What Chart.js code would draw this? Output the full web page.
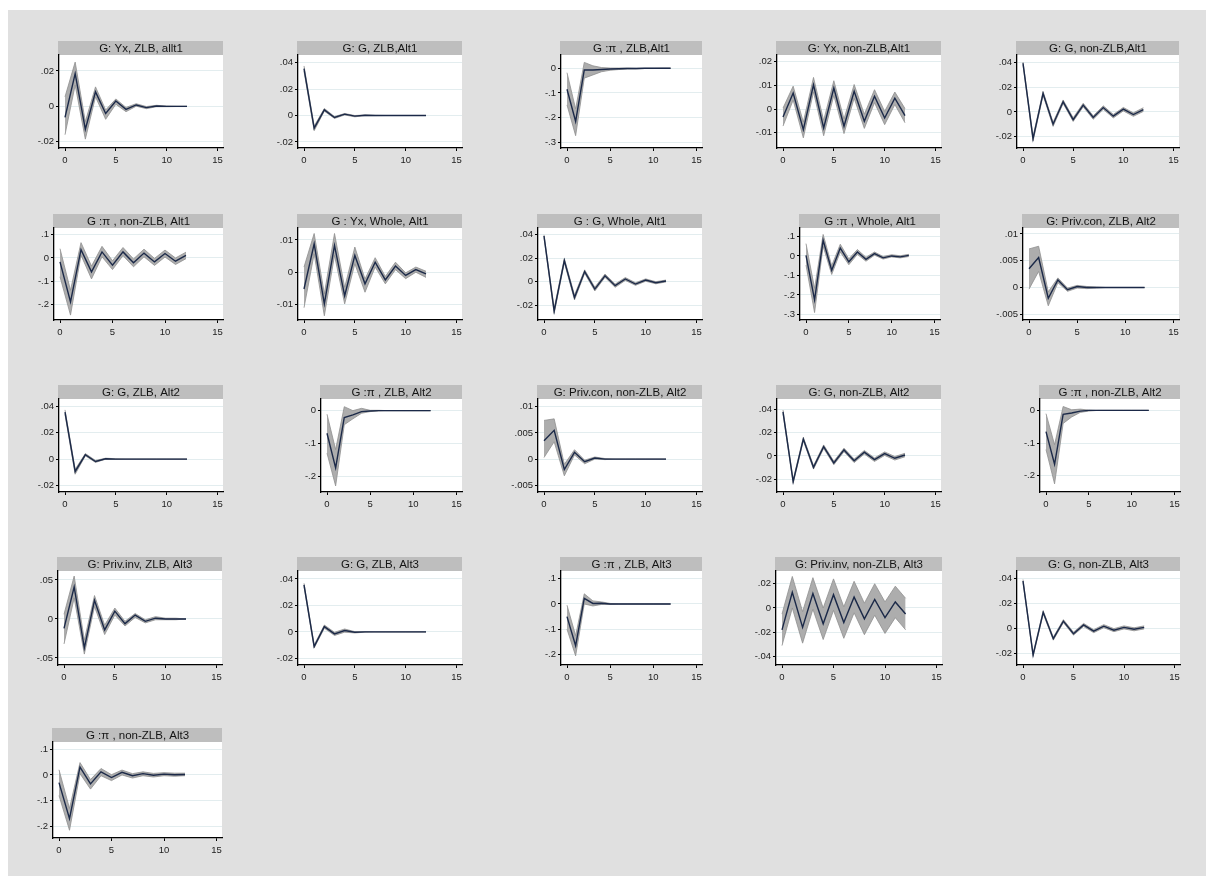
<!DOCTYPE html>
<html>
<head>
<meta charset="utf-8">
<script src="https://cdn.jsdelivr.net/npm/chart.js@4/dist/chart.umd.min.js"></script>
<style>
  html, body { margin: 0; padding: 0; background: #ffffff; width: 1206px; height: 876px; overflow: hidden; }
  #frame { position: absolute; left: 8px; top: 10px; width: 1198px; height: 866px; background: #e0e0e0; }
  canvas { position: absolute; }
</style>
</head>
<body>
<div id="frame"></div>
<script>
// Impulse responses to a government spending shock, horizons 0..12, with confidence bands.
const horizon = [0, 1, 2, 3, 4, 5, 6, 7, 8, 9, 10, 11, 12];
const xTickValues = [0, 5, 10, 15];

// Output, ZLB, alt 1
const yxZlb1   = [-0.0062, 0.0185, -0.0129, 0.0082, -0.004, 0.003, -0.0017, 0.0008, -0.0007, 0.0002, 0, 0, 0];
const yxZlb1Lo = [-0.016, 0.012, -0.0185, 0.0054, -0.0073, 0.0012, -0.003, 0.0001, -0.0013, -0.0002, -0.0002, -0.0001, -0.0001];
const yxZlb1Hi = [0.0054, 0.025, -0.0086, 0.011, -0.002, 0.0042, -0.0006, 0.0015, -0.0001, 0.0006, 0.0002, 0.0001, 0.0001];
// Government spending, ZLB, alt 1
const gZlb1    = [0.0355, -0.0095, 0.0043, -0.0015, 0.001, -0.0005, 0.0002, 0, 0, 0, 0, 0, 0];
const gZlb1Lo  = [0.0335, -0.0115, 0.0033, -0.0022, 0.0004, -0.001, -0.0001, -0.0001, 0, 0, 0, 0, 0];
const gZlb1Hi  = [0.0375, -0.008, 0.0053, -0.0008, 0.0015, 0, 0.0004, 0.0001, 0, 0, 0, 0, 0];
// Inflation, ZLB, alt 1
const piZlb1   = [-0.085, -0.216, -0.007, -0.007, -0.005, -0.003, -0.002, -0.001, -0.001, 0, 0, 0, 0];
const piZlb1Lo = [-0.149, -0.274, -0.04, -0.027, -0.014, -0.008, -0.005, -0.003, -0.003, -0.001, -0.001, 0, 0];
const piZlb1Hi = [-0.018, -0.165, 0.024, 0.01, 0.003, 0.001, 0.001, 0.001, 0, 0, 0, 0, 0];
// Output, non-ZLB, alt 1
const yxNon1   = [-0.0034, 0.0068, -0.0087, 0.0103, -0.008, 0.0089, -0.0073, 0.0075, -0.0052, 0.0054, -0.0038, 0.0046, -0.0028];
const yxNon1Lo = [-0.0072, 0.0038, -0.0122, 0.0072, -0.0113, 0.0058, -0.0104, 0.0046, -0.0082, 0.0027, -0.0066, 0.0019, -0.0058];
const yxNon1Hi = [0.0004, 0.0097, -0.0055, 0.0134, -0.0048, 0.012, -0.0042, 0.0104, -0.0022, 0.0082, -0.001, 0.0072, 0.0002];
// Government spending, non-ZLB, alt 1
const gNon1    = [0.0396, -0.0218, 0.015, -0.010, 0.0082, -0.0063, 0.0055, -0.0046, 0.0035, -0.0035, 0.0022, -0.0022, 0.0019];
const gNon1Lo  = [0.0381, -0.0238, 0.0135, -0.0118, 0.0068, -0.0078, 0.0041, -0.006, 0.0021, -0.0049, 0.0008, -0.0036, 0.0004];
const gNon1Hi  = [0.0406, -0.0200, 0.0165, -0.0084, 0.0097, -0.0048, 0.007, -0.0032, 0.0049, -0.0021, 0.0036, -0.0008, 0.0034];
// Inflation, non-ZLB, alt 1
const piNon1   = [-0.017, -0.189, 0.036, -0.06, 0.026, -0.031, 0.026, -0.021, 0.021, -0.017, 0.019, -0.014, 0.011];
const piNon1Lo = [-0.081, -0.246, 0.012, -0.09, 0.005, -0.05, 0.01, -0.038, 0.005, -0.032, 0.004, -0.028, -0.003];
const piNon1Hi = [0.04, -0.139, 0.066, -0.035, 0.05, -0.012, 0.045, -0.004, 0.038, -0.002, 0.034, 0, 0.025];
// Output, whole sample, alt 1
const yxAll1   = [-0.0052, 0.0088, -0.0098, 0.0083, -0.0073, 0.0052, -0.0036, 0.0031, -0.0024, 0.0019, -0.001, 0.0008, -0.0005];
const yxAll1Lo = [-0.011, 0.0057, -0.0135, 0.0052, -0.0098, 0.0026, -0.0062, 0.0016, -0.0036, 0.0008, -0.002, 0, -0.0016];
const yxAll1Hi = [0.0016, 0.012, -0.0067, 0.012, -0.0047, 0.0078, -0.0021, 0.0045, -0.0013, 0.0031, -0.0002, 0.0016, 0.0003];
// Government spending, whole sample, alt 1
const gAll1    = [0.0389, -0.0249, 0.018, -0.0134, 0.0086, -0.0063, 0.0051, -0.0034, 0.0023, -0.002, 0.0014, -0.0009, 0.0006];
const gAll1Lo  = [0.0374, -0.027, 0.0163, -0.0155, 0.0071, -0.0079, 0.0037, -0.0048, 0.0011, -0.0031, 0.0004, -0.0018, -0.0002];
const gAll1Hi  = [0.0399, -0.0228, 0.0197, -0.0113, 0.0101, -0.0047, 0.0065, -0.002, 0.0035, -0.0009, 0.0024, 0, 0.0014];
// Inflation, whole sample, alt 1
const piAll1   = [0.003, -0.225, 0.08, -0.073, 0.04, -0.03, 0.02, -0.017, 0.012, -0.01, 0, -0.005, 0.003];
const piAll1Lo = [-0.047, -0.29, 0.05, -0.095, 0.02, -0.045, 0.008, -0.027, 0.004, -0.016, -0.005, -0.01, -0.003];
const piAll1Hi = [0.063, -0.166, 0.11, -0.05, 0.06, -0.015, 0.033, -0.007, 0.02, -0.003, 0.006, 0.001, 0.008];
// Private consumption, ZLB, alt 2
const pconZlb2   = [0.0035, 0.0056, -0.002, 0.0014, -0.0004, 0.0002, 0, 0, 0, 0, 0, 0, 0];
const pconZlb2Lo = [-0.0003, 0.003, -0.0034, 0.0009, -0.0007, -0.0001, -0.0002, -0.0001, 0, 0, 0, 0, 0];
const pconZlb2Hi = [0.0072, 0.0077, -0.0008, 0.0018, -0.0001, 0.0004, 0.0002, 0.0001, 0, 0, 0, 0, 0];
// Government spending, ZLB, alt 2
const gZlb2    = [0.0357, -0.0094, 0.0033, -0.0018, 0.0003, 0, 0, 0, 0, 0, 0, 0, 0];
const gZlb2Lo  = [0.034, -0.0115, 0.0025, -0.0025, -0.0001, -0.0003, 0, 0, 0, 0, 0, 0, 0];
const gZlb2Hi  = [0.0374, -0.0078, 0.0042, -0.001, 0.0007, 0.0003, 0, 0, 0, 0, 0, 0, 0];
// Inflation, ZLB, alt 2
const piZlb2   = [-0.069, -0.175, -0.021, -0.013, -0.003, -0.001, 0, 0, 0, 0, 0, 0, 0];
const piZlb2Lo = [-0.13, -0.23, -0.043, -0.025, -0.008, -0.003, -0.001, 0, 0, 0, 0, 0, 0];
const piZlb2Hi = [-0.011, -0.119, 0.012, 0, 0.007, 0.001, 0.001, 0, 0, 0, 0, 0, 0];
// Private consumption, non-ZLB, alt 2
const pconNon2   = [0.0035, 0.0055, -0.002, 0.0013, -0.0005, 0.0002, 0, 0, 0, 0, 0, 0, 0];
const pconNon2Lo = [0.0003, 0.0033, -0.0032, 0.0008, -0.0009, 0, -0.0001, 0, 0, 0, 0, 0, 0];
const pconNon2Hi = [0.0074, 0.0077, -0.001, 0.0018, -0.0002, 0.0004, 0.0001, 0, 0, 0, 0, 0, 0];
// Government spending, non-ZLB, alt 2
const gNon2    = [0.038, -0.022, 0.0145, -0.0098, 0.008, -0.006, 0.0052, -0.0042, 0.0032, -0.0032, 0.002, -0.002, 0.0008];
const gNon2Lo  = [0.0365, -0.0235, 0.013, -0.0113, 0.0065, -0.0075, 0.0037, -0.0057, 0.0017, -0.0047, 0.0005, -0.0035, -0.0007];
const gNon2Hi  = [0.0395, -0.0205, 0.016, -0.0083, 0.0095, -0.0045, 0.0067, -0.0027, 0.0047, -0.0017, 0.0035, -0.0005, 0.0023];
// Inflation, non-ZLB, alt 2
const piNon2   = [-0.065, -0.165, -0.012, -0.008, -0.002, 0, 0, 0, 0, 0, 0, 0, 0];
const piNon2Lo = [-0.12, -0.225, -0.04, -0.02, -0.006, -0.002, 0, 0, 0, 0, 0, 0, 0];
const piNon2Hi = [-0.01, -0.105, 0.012, 0.002, 0.004, 0.001, 0, 0, 0, 0, 0, 0, 0];
// Private investment, ZLB, alt 3
const pinvZlb3   = [-0.012, 0.041, -0.037, 0.024, -0.014, 0.01, -0.006, 0.005, -0.003, 0.001, 0, 0, 0];
const pinvZlb3Lo = [-0.032, 0.027, -0.045, 0.016, -0.02, 0.005, -0.009, 0.002, -0.005, -0.001, -0.001, -0.001, 0];
const pinvZlb3Hi = [0.006, 0.055, -0.027, 0.03, -0.008, 0.014, -0.003, 0.007, -0.001, 0.003, 0.001, 0.001, 0];
// Government spending, ZLB, alt 3
const gZlb3    = [0.0355, -0.011, 0.004, -0.0015, 0.001, -0.0003, 0, 0, 0, 0, 0, 0, 0];
const gZlb3Lo  = [0.0343, -0.0122, 0.0028, -0.0027, -0.0002, -0.0008, -0.0002, 0, 0, 0, 0, 0, 0];
const gZlb3Hi  = [0.0367, -0.0098, 0.0052, -0.0003, 0.0022, 0.0002, 0.0002, 0, 0, 0, 0, 0, 0];
// Inflation, ZLB, alt 3
const piZlb3   = [-0.05, -0.165, 0.022, 0.002, 0.003, 0, 0, 0, 0, 0, 0, 0, 0];
const piZlb3Lo = [-0.1, -0.205, 0.0, -0.008, -0.002, -0.002, 0, 0, 0, 0, 0, 0, 0];
const piZlb3Hi = [-0.005, -0.125, 0.04, 0.012, 0.008, 0.002, 0, 0, 0, 0, 0, 0, 0];
// Private investment, non-ZLB, alt 3
const pinvNon3   = [-0.018, 0.013, -0.016, 0.012, -0.013, 0.011, -0.012, 0.009, -0.009, 0.007, -0.008, 0.005, -0.005];
const pinvNon3Lo = [-0.031, 0.0, -0.029, -0.001, -0.026, -0.002, -0.025, -0.004, -0.022, -0.006, -0.021, -0.008, -0.018];
const pinvNon3Hi = [-0.005, 0.026, -0.003, 0.025, 0.0, 0.024, 0.001, 0.022, 0.004, 0.02, 0.005, 0.018, 0.008];
// Government spending, non-ZLB, alt 3
const gNon3    = [0.038, -0.021, 0.013, -0.008, 0.006, -0.004, 0.003, -0.002, 0.002, -0.0012, 0.001, -0.0005, 0.001];
const gNon3Lo  = [0.0368, -0.0222, 0.0118, -0.0092, 0.0048, -0.0052, 0.0018, -0.0032, 0.0008, -0.0024, -0.0002, -0.0017, -0.0002];
const gNon3Hi  = [0.0392, -0.0198, 0.0142, -0.0068, 0.0072, -0.0028, 0.0042, -0.0008, 0.0032, 0.0, 0.0022, 0.0007, 0.0022];
// Inflation, non-ZLB, alt 3
const piNon3   = [-0.03, -0.17, 0.03, -0.035, 0.012, -0.01, 0.01, -0.003, 0.005, -0.001, 0.003, 0.001, 0.002];
const piNon3Lo = [-0.08, -0.215, 0.005, -0.055, -0.003, -0.022, 0, -0.012, -0.003, -0.008, -0.003, -0.005, -0.003];
const piNon3Hi = [0.02, -0.13, 0.048, -0.018, 0.025, 0.001, 0.019, 0.005, 0.012, 0.006, 0.009, 0.007, 0.007];

// Panel titles, in reading order
const panelTitles = [
  'G: Yx, ZLB, allt1', 'G: G, ZLB,Alt1', 'G :\u03c0 , ZLB,Alt1', 'G: Yx, non-ZLB,Alt1', 'G: G, non-ZLB,Alt1',
  'G :\u03c0 , non-ZLB, Alt1', 'G : Yx, Whole, Alt1', 'G : G, Whole, Alt1', 'G :\u03c0 , Whole, Alt1', 'G: Priv.con, ZLB, Alt2',
  'G: G, ZLB, Alt2', 'G :\u03c0 , ZLB, Alt2', 'G: Priv.con, non-ZLB, Alt2', 'G: G, non-ZLB, Alt2', 'G :\u03c0 , non-ZLB, Alt2',
  'G: Priv.inv, ZLB, Alt3', 'G: G, ZLB, Alt3', 'G :\u03c0 , ZLB, Alt3', 'G: Priv.inv, non-ZLB, Alt3', 'G: G, non-ZLB, Alt3',
  'G :\u03c0 , non-ZLB, Alt3'
];
// Response series per panel: [point estimate, lower band, upper band]
const panelSeries = [
  [yxZlb1, yxZlb1Lo, yxZlb1Hi], [gZlb1, gZlb1Lo, gZlb1Hi], [piZlb1, piZlb1Lo, piZlb1Hi], [yxNon1, yxNon1Lo, yxNon1Hi], [gNon1, gNon1Lo, gNon1Hi],
  [piNon1, piNon1Lo, piNon1Hi], [yxAll1, yxAll1Lo, yxAll1Hi], [gAll1, gAll1Lo, gAll1Hi], [piAll1, piAll1Lo, piAll1Hi], [pconZlb2, pconZlb2Lo, pconZlb2Hi],
  [gZlb2, gZlb2Lo, gZlb2Hi], [piZlb2, piZlb2Lo, piZlb2Hi], [pconNon2, pconNon2Lo, pconNon2Hi], [gNon2, gNon2Lo, gNon2Hi], [piNon2, piNon2Lo, piNon2Hi],
  [pinvZlb3, pinvZlb3Lo, pinvZlb3Hi], [gZlb3, gZlb3Lo, gZlb3Hi], [piZlb3, piZlb3Lo, piZlb3Hi], [pinvNon3, pinvNon3Lo, pinvNon3Hi], [gNon3, gNon3Lo, gNon3Hi],
  [piNon3, piNon3Lo, piNon3Hi]
];
// Vertical axis range [min, max] per panel
const yRanges = [
  [-0.0235, 0.029], [-0.0246, 0.0458], [-0.324, 0.054], [-0.0165, 0.0229], [-0.0294, 0.0463],
  [-0.267, 0.129], [-0.0148, 0.0137], [-0.0326, 0.0457], [-0.328, 0.143], [-0.00605, 0.0111],
  [-0.025, 0.0457], [-0.2485, 0.0355], [-0.0063, 0.0115], [-0.031, 0.049], [-0.25, 0.035],
  [-0.059, 0.0615], [-0.025, 0.046], [-0.241, 0.13], [-0.047, 0.0305], [-0.029, 0.046],
  [-0.245, 0.128]
];
// Vertical axis tick values per panel
const yTickValues = [
  [-0.02, 0, 0.02], [-0.02, 0, 0.02, 0.04], [-0.3, -0.2, -0.1, 0], [-0.01, 0, 0.01, 0.02], [-0.02, 0, 0.02, 0.04],
  [-0.2, -0.1, 0, 0.1], [-0.01, 0, 0.01], [-0.02, 0, 0.02, 0.04], [-0.3, -0.2, -0.1, 0, 0.1], [-0.005, 0, 0.005, 0.01],
  [-0.02, 0, 0.02, 0.04], [-0.2, -0.1, 0], [-0.005, 0, 0.005, 0.01], [-0.02, 0, 0.02, 0.04], [-0.2, -0.1, 0],
  [-0.05, 0, 0.05], [-0.02, 0, 0.02, 0.04], [-0.2, -0.1, 0, 0.1], [-0.04, -0.02, 0, 0.02], [-0.02, 0, 0.02, 0.04],
  [-0.2, -0.1, 0, 0.1]
];

// Plot-region boxes on the page: [left, right, top, bottom]
const panelBoxes = [
  [59, 223, 55, 148], [298, 462, 55, 148], [561, 702, 55, 148], [777, 941, 55, 148], [1017, 1179, 55, 148],
  [54, 223, 228, 320], [298, 462, 228, 320], [538, 702, 228, 320], [800, 940, 228, 320], [1023, 1179, 228, 320],
  [59, 223, 399, 492], [321, 462, 399, 492], [538, 702, 399, 492], [777, 941, 399, 492], [1040, 1180, 399, 492],
  [58, 222, 571, 665], [298, 462, 571, 665], [561, 702, 571, 665], [776, 942, 571, 665], [1017, 1180, 571, 665],
  [53, 222, 742, 838]
];

const LABEL_W = 44, TITLE_H = 14, RIGHT_PAD = 8, XLAB_H = 22;
const FONT = '"Liberation Sans", Arial, Helvetica, sans-serif';

function stataLabel(v) {
  if (Math.abs(v) < 1e-12) return '0';
  const s = String(+v.toPrecision(6));
  return s.replace(/^(-?)0\./, '$1.');
}

// Grey heading strip above each plot region, and the white plot background
const panelDecor = {
  id: 'panelDecor',
  beforeDraw(chart, args, opts) {
    const { ctx, chartArea: a } = chart;
    ctx.save();
    ctx.fillStyle = '#ffffff';
    ctx.fillRect(a.left, a.top, a.right - a.left, a.bottom - a.top);
    ctx.fillStyle = '#bebebe';
    ctx.fillRect(a.left - 1, a.top - TITLE_H, a.right - a.left + 1, TITLE_H);
    ctx.fillStyle = '#141414';
    ctx.font = '11.5px ' + FONT;
    ctx.textAlign = 'center';
    ctx.textBaseline = 'middle';
    ctx.fillText(opts.text, (a.left + a.right) / 2, a.top - TITLE_H / 2 + 0.5);
    ctx.restore();
  }
};

panelTitles.forEach((title, i) => {
  const [L, R, T, B] = panelBoxes[i];
  const [mid, lo, hi] = panelSeries[i];
  const [yMin, yMax] = yRanges[i];
  const ticksY = yTickValues[i];

  const w = (R - L) + LABEL_W + RIGHT_PAD;
  const h = (B - T) + TITLE_H + XLAB_H;
  const canvas = document.createElement('canvas');
  canvas.width = w; canvas.height = h;
  canvas.style.width = w + 'px'; canvas.style.height = h + 'px';
  canvas.style.left = (L - LABEL_W) + 'px';
  canvas.style.top = (T - TITLE_H) + 'px';
  document.body.appendChild(canvas);

  const ppu = (R - L - 11.5) / 15;
  const pts = arr => horizon.map((t, k) => ({ x: t, y: arr[k] }));

  new Chart(canvas, {
    type: 'line',
    data: {
      // index 0 is painted last, so the point estimate sits on top of the band
      datasets: [
        { data: pts(mid), borderColor: '#1b2948', borderWidth: 1.4, pointRadius: 0, fill: false, tension: 0 },
        { data: pts(lo), borderColor: '#8f8f8f', borderWidth: 0.8, pointRadius: 0, fill: false, tension: 0 },
        { data: pts(hi), borderColor: '#8f8f8f', borderWidth: 0.8, pointRadius: 0, fill: '-1', backgroundColor: '#adadad', tension: 0 }
      ]
    },
    options: {
      responsive: false,
      devicePixelRatio: 1,
      animation: false,
      events: [],
      layout: { padding: { top: TITLE_H, right: RIGHT_PAD, left: 0, bottom: 0 } },
      plugins: { legend: { display: false }, tooltip: { enabled: false }, panelDecor: { text: title } },
      scales: {
        x: {
          type: 'linear',
          min: -6 / ppu,
          max: 15 + 5.5 / ppu,
          afterFit(s) { s.height = XLAB_H; },
          afterBuildTicks(s) { s.ticks = xTickValues.map(v => ({ value: v })); },
          ticks: { autoSkip: false, maxRotation: 0, padding: 4, color: '#222', font: { family: FONT, size: 9.5 }, callback: v => String(v) },
          grid: { drawOnChartArea: false, tickColor: '#000', tickLength: 3, color: '#000' },
          border: { display: true, color: '#000', width: 1.3 }
        },
        y: {
          type: 'linear',
          min: yMin,
          max: yMax,
          afterFit(s) { s.width = LABEL_W; },
          afterBuildTicks(s) { s.ticks = ticksY.map(v => ({ value: v })); },
          ticks: { autoSkip: false, padding: 2, color: '#222', font: { family: FONT, size: 9.5 }, callback: v => stataLabel(v) },
          grid: { color: '#e3edef', lineWidth: 1, tickColor: '#000', tickLength: 3 },
          border: { display: true, color: '#000', width: 1.3 }
        }
      }
    },
    plugins: [panelDecor]
  });
});
</script>
</body>
</html>
